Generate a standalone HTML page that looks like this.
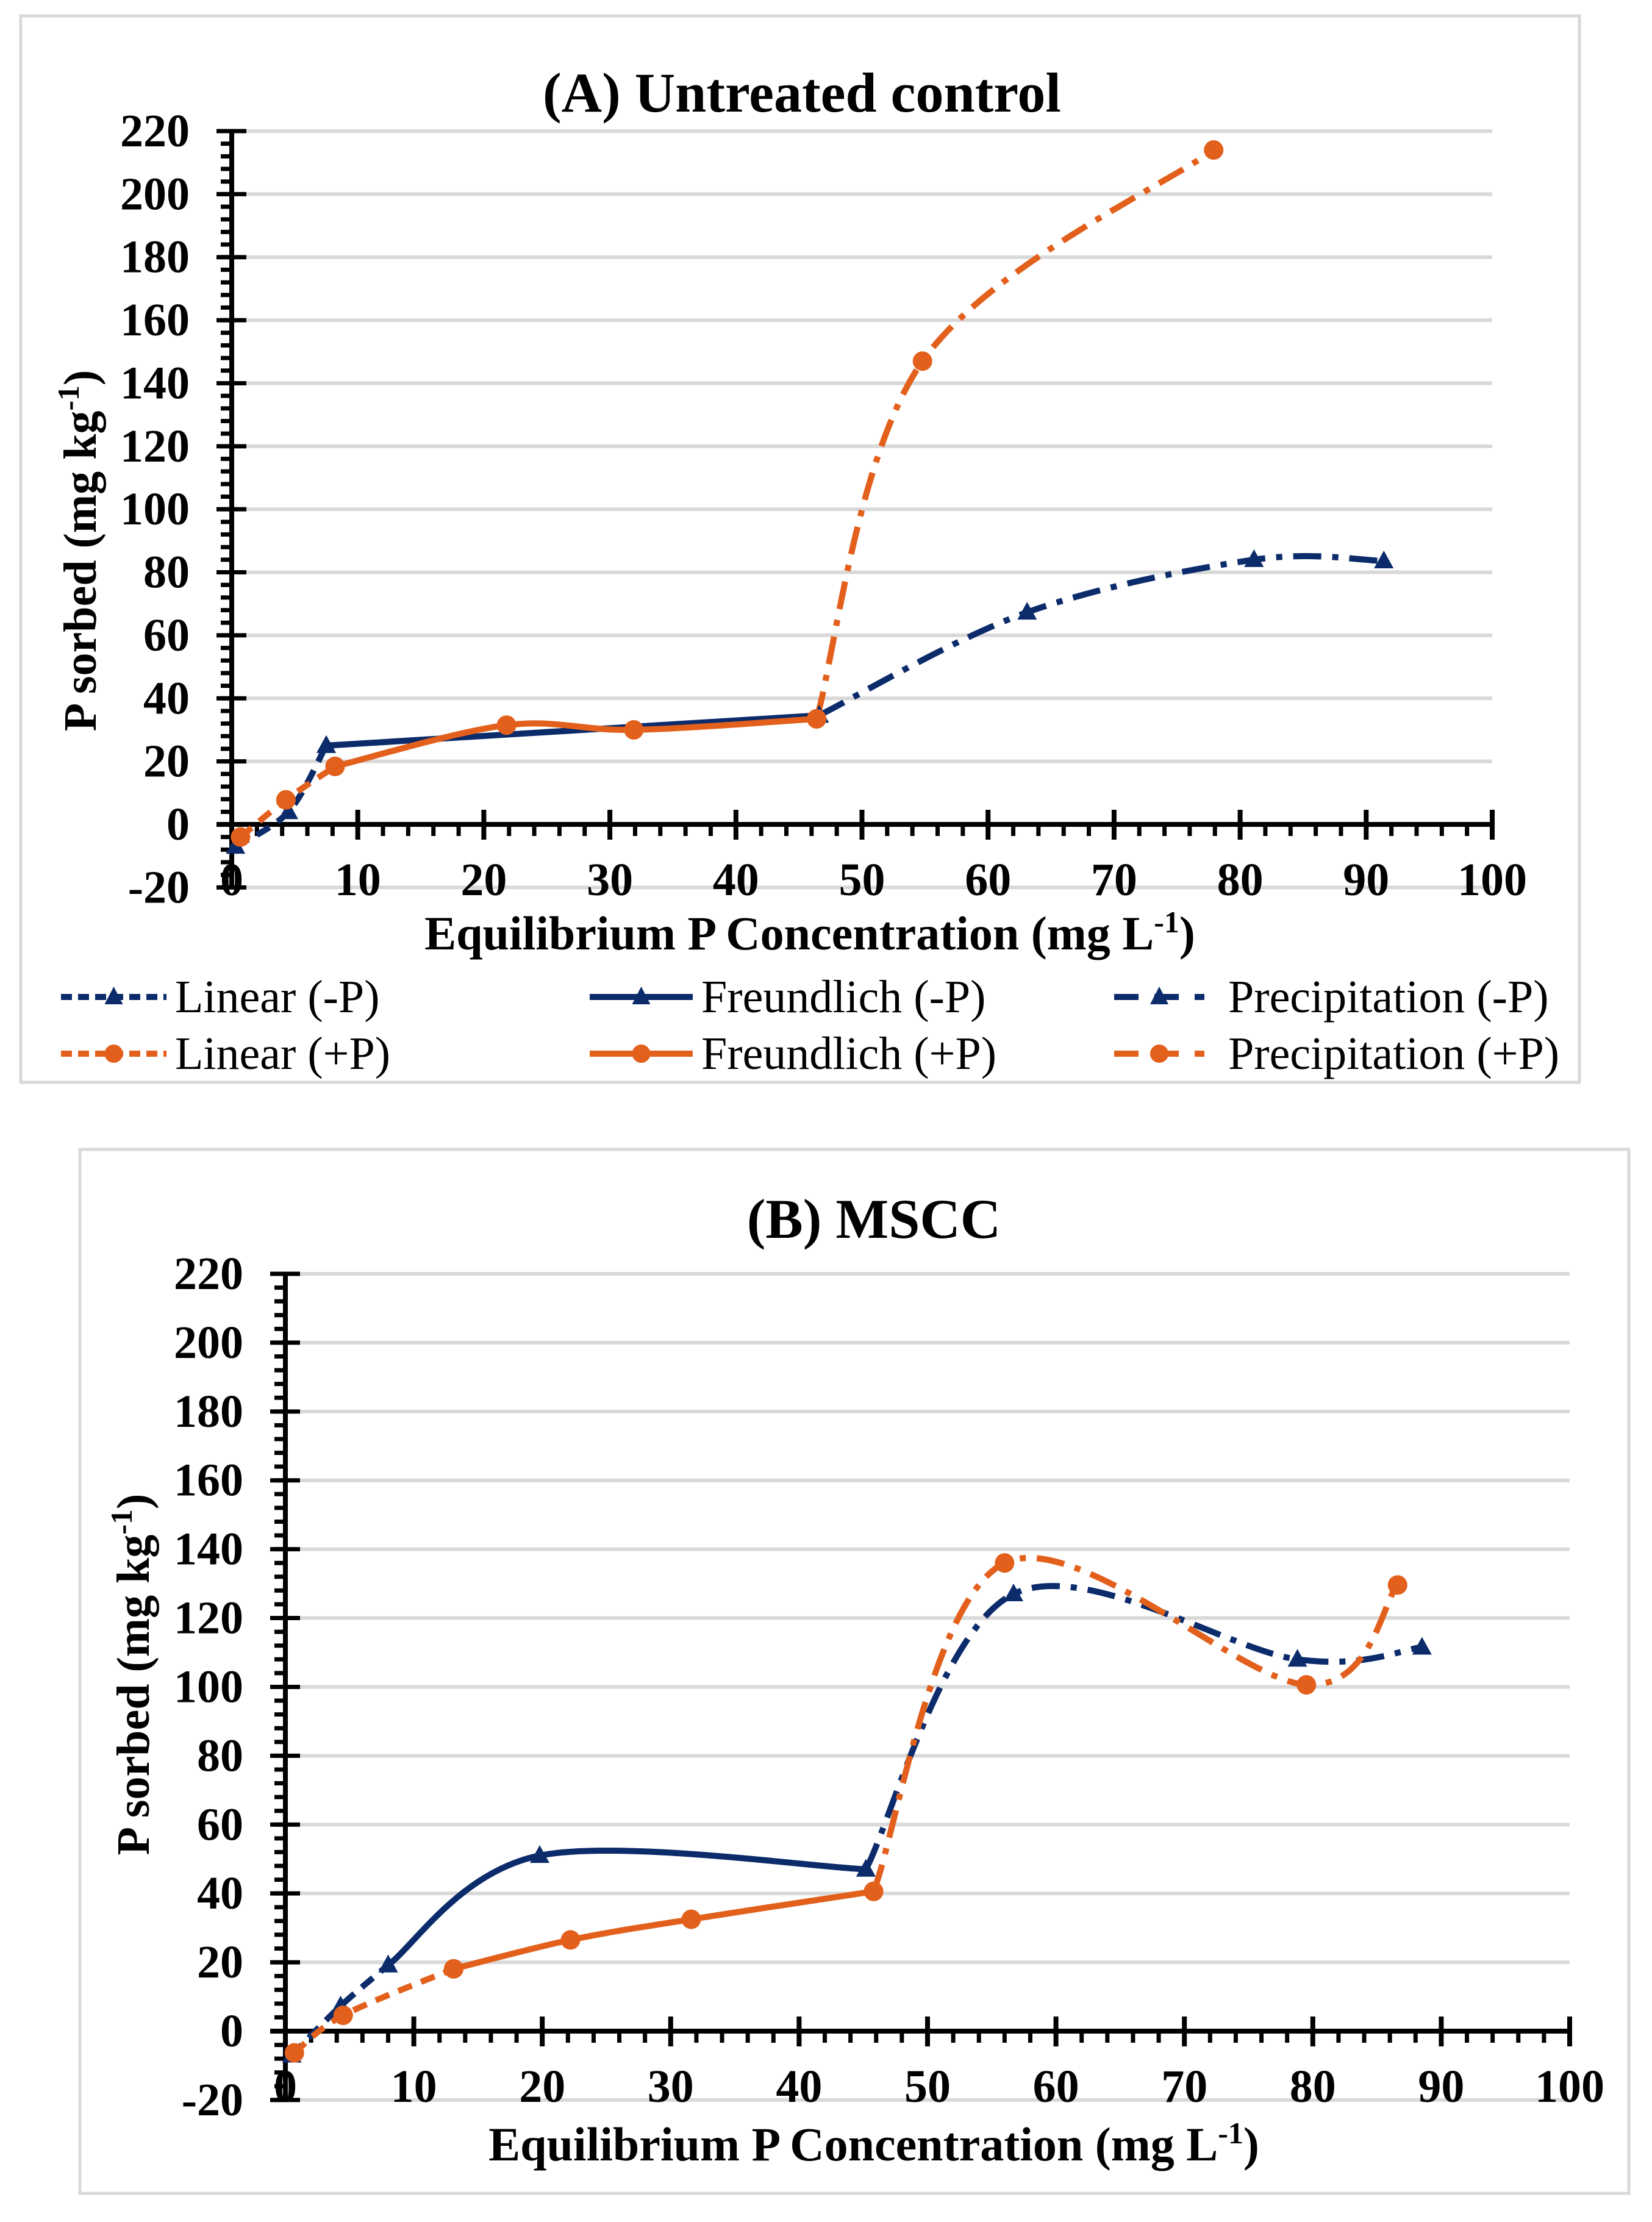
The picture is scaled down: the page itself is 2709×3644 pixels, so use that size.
<!DOCTYPE html>
<html><head><meta charset="utf-8">
<style>
html,body{margin:0;padding:0;background:#fff;}
svg{display:block;}
text{font-family:"Liberation Serif",serif;}
</style></head>
<body>
<svg id="root" width="2709" height="3644" viewBox="0 0 2709 3644" xmlns="http://www.w3.org/2000/svg">
<rect x="0" y="0" width="2709" height="3644" fill="#fff"/>
<rect x="34" y="26" width="2556" height="1749" fill="#fff" stroke="#d9d9d9" stroke-width="5"/>
<rect x="131" y="1885" width="2540" height="1712" fill="#fff" stroke="#d9d9d9" stroke-width="5"/>
<g id="pa"></g>
<g id="pb"></g>
<g id="legend"></g>
</svg>
<script>
// ---- data ----
const xTicks = [0,10,20,30,40,50,60,70,80,90,100];
const yTicks = [-20,0,20,40,60,80,100,120,140,160,180,200,220];
// Panel A
const aLinNx = [0.3, 4.5, 7.5];      const aLinNy = [-7, 4, 25];
const aFreNx = [7.5, 46.6];          const aFreNy = [25, 34.6];
const aPreNx = [46.6, 63.1, 81.1, 91.4]; const aPreNy = [34.6, 67.3, 84, 83.6];
const aLinPx = [0.7, 4.3, 8.2];      const aLinPy = [-4, 7.8, 18.4];
const aFrePx = [8.2, 21.8, 31.9, 46.4]; const aFrePy = [18.4, 31.5, 30, 33.5];
const aPrePx = [46.4, 54.8, 77.9];   const aPrePy = [33.5, 147, 214];
// Panel B
const bLinNx = [0.5, 4.3, 8];        const bLinNy = [-7, 7.3, 19.2];
const bFreNx = [8, 19.8, 45.2];      const bFreNy = [19.2, 51, 47];
const bPreNx = [45.2, 56.7, 78.8, 88.5]; const bPreNy = [47, 127, 108, 111.5];
const bLinPx = [0.7, 4.5, 13.1];     const bLinPy = [-6.3, 4.6, 18.1];
const bFrePx = [13.1, 22.2, 31.6, 45.8]; const bFrePy = [18.1, 26.5, 32.5, 40.6];
const bPrePx = [45.8, 56, 79.5, 86.6]; const bPrePy = [40.6, 136, 100.6, 129.6];

const NAVY = "#0b2b6b", ORANGE = "#e2601c";
const DASH_LIN = "24 16", DASH_PRE = "46 18 10 18";
const NS = "http://www.w3.org/2000/svg";
function mk(tag, attrs, parent){const e=document.createElementNS(NS,tag);for(const k in attrs)e.setAttribute(k,attrs[k]);parent.appendChild(e);return e;}

function smoothPath(pts){
  if(pts.length<2) return "";
  let d="M"+pts[0][0]+","+pts[0][1];
  if(pts.length===2){return d+" L"+pts[1][0]+","+pts[1][1];}
  const t=1/6;
  for(let i=0;i<pts.length-1;i++){
    const p0=pts[Math.max(0,i-1)],p1=pts[i],p2=pts[i+1],p3=pts[Math.min(pts.length-1,i+2)];
    const c1=[p1[0]+(p2[0]-p0[0])*t,p1[1]+(p2[1]-p0[1])*t];
    const c2=[p2[0]-(p3[0]-p1[0])*t,p2[1]-(p3[1]-p1[1])*t];
    d+=" C"+c1[0]+","+c1[1]+" "+c2[0]+","+c2[1]+" "+p2[0]+","+p2[1];
  }
  return d;
}

function panel(g, cfg){
  const sx=v=>cfg.x0+(v-0)*(cfg.x100-cfg.x0)/100;
  const sy=v=>cfg.y0-(v)*(cfg.y0-cfg.y220)/220;
  yTicks.forEach(v=>{ if(v===0) return;
    const l=mk("line",{x1:sx(0),x2:sx(100),y1:sy(v),y2:sy(v),stroke:"#d9d9d9","stroke-width":6},g);
    
    
  });
  for(let v=-20;v<=220;v+=4){
    const l=mk("line",{x1:sx(0)-18,x2:sx(0),y1:sy(v),y2:sy(v),stroke:"#000","stroke-width":7},g);
    
    
  }
  yTicks.forEach(v=>{
    const l=mk("line",{x1:sx(0)-25,x2:sx(0)+24,y1:sy(v),y2:sy(v),stroke:"#000","stroke-width":7},g);
    
    
    const t=mk("text",{x:sx(0)-69,y:sy(v)+25,"text-anchor":"end","font-size":76,"font-weight":"bold",fill:"#000"},g);
    t.textContent=v;
    
    
  });
  const ya=mk("line",{x1:sx(0),x2:sx(0),y1:sy(220),y2:sy(-20),stroke:"#000","stroke-width":8},g);
  
  
  const xa=mk("line",{x1:sx(0)-25,x2:sx(100),y1:sy(0),y2:sy(0),stroke:"#000","stroke-width":8},g);
  
  
  for(let v=0;v<=100;v+=2){
    const l=mk("line",{x1:sx(v),x2:sx(v),y1:sy(0),y2:sy(0)+19,stroke:"#000","stroke-width":7},g);
    
    
  }
  xTicks.forEach(v=>{
    const l=mk("line",{x1:sx(v),x2:sx(v),y1:sy(0)-24,y2:sy(0)+25,stroke:"#000","stroke-width":8},g);
    
    
    const t=mk("text",{x:sx(v),y:sy(0)+116,"text-anchor":"middle","font-size":76,"font-weight":"bold",fill:"#000"},g);
    t.textContent=v;
    
    
  });
  const tt=mk("text",{x:cfg.tx,y:cfg.ty,"text-anchor":"middle","font-size":92,"font-weight":"bold",fill:"#000"},g);
  tt.textContent=cfg.title;
  
  
  const xt=mk("text",{x:cfg.xtx,y:cfg.xty,"text-anchor":"middle","font-size":78,"font-weight":"bold",fill:"#000"},g);
  xt.innerHTML='Equilibrium P Concentration (mg L<tspan dy="-28" font-size="50">-1</tspan><tspan dy="28">)</tspan>';
  
  
  const yt=mk("text",{x:0,y:0,"text-anchor":"middle","font-size":76,"font-weight":"bold",fill:"#000",transform:"translate("+(cfg.ytx+26)+","+cfg.yty+") rotate(-90)"},g);
  yt.innerHTML='P sorbed (mg kg<tspan dy="-28" font-size="50">-1</tspan><tspan dy="28">)</tspan>';
  
  
  cfg.series.forEach(s=>{
    const pts=s.xs.map((x,i)=>[sx(x),sy(s.ys[i])]);
    const p=mk("path",{d:smoothPath(pts),fill:"none",stroke:s.color,"stroke-width":10,"stroke-dasharray":s.dash||"none","stroke-linecap":s.dash?"butt":"round","stroke-linejoin":"round"},g);
    
    
  });
  cfg.series.forEach(s=>{
    s.xs.forEach((x,i)=>{
      const cx=sx(x),cy=sy(s.ys[i]);
      let m;
      if(s.marker==="tri"){
        m=mk("polygon",{points:(cx)+","+(cy-17)+" "+(cx-16)+","+(cy+12)+" "+(cx+16)+","+(cy+12),fill:s.color},g);
      } else {
        m=mk("circle",{cx:cx,cy:cy,r:16,fill:s.color},g);
      }
      
      
    });
  });
}

panel(document.getElementById("pa"),{
  x0:380,x100:2447,y0:1352,y220:215,title:"(A) Untreated control",tx:1315,ty:183,
  xtx:1328,xty:1557,ytx:131,yty:903,
  series:[
    {name:"linear-minus-p",xs:aLinNx,ys:aLinNy,color:NAVY,dash:DASH_LIN,marker:"tri"},
    {name:"freundlich-minus-p",xs:aFreNx,ys:aFreNy,color:NAVY,dash:null,marker:"tri"},
    {name:"precipitation-minus-p",xs:aPreNx,ys:aPreNy,color:NAVY,dash:DASH_PRE,marker:"tri"},
    {name:"linear-plus-p",xs:aLinPx,ys:aLinPy,color:ORANGE,dash:DASH_LIN,marker:"circ"},
    {name:"freundlich-plus-p",xs:aFrePx,ys:aFrePy,color:ORANGE,dash:null,marker:"circ"},
    {name:"precipitation-plus-p",xs:aPrePx,ys:aPrePy,color:ORANGE,dash:DASH_PRE,marker:"circ"}
  ]});
panel(document.getElementById("pb"),{
  x0:468,x100:2574,y0:3331,y220:2089,title:"(B) MSCC",tx:1433,ty:2030,
  xtx:1433,xty:3543,ytx:218,yty:2746,
  series:[
    {name:"linear-minus-p",xs:bLinNx,ys:bLinNy,color:NAVY,dash:DASH_LIN,marker:"tri"},
    {name:"freundlich-minus-p",xs:bFreNx,ys:bFreNy,color:NAVY,dash:null,marker:"tri"},
    {name:"precipitation-minus-p",xs:bPreNx,ys:bPreNy,color:NAVY,dash:DASH_PRE,marker:"tri"},
    {name:"linear-plus-p",xs:bLinPx,ys:bLinPy,color:ORANGE,dash:DASH_LIN,marker:"circ"},
    {name:"freundlich-plus-p",xs:bFrePx,ys:bFrePy,color:ORANGE,dash:null,marker:"circ"},
    {name:"precipitation-plus-p",xs:bPrePx,ys:bPrePy,color:ORANGE,dash:DASH_PRE,marker:"circ"}
  ]});

const legendLabels=["Linear (-P)","Freundlich (-P)","Precipitation (-P)","Linear (+P)","Freundlich (+P)","Precipitation (+P)"];
const lg=document.getElementById("legend");
const colX=[[100,273,287],[967,1136,1150],[1827,1975,2014]];
const rowY=[1635,1728];
const dashes=["18 10",null,"40 26"];
legendLabels.forEach((lab,i)=>{
  const r=Math.floor(i/3),c=i%3;
  const color=r===0?NAVY:ORANGE;
  const y=rowY[r];
  const grp=mk("g",{},lg);
  
  
  mk("line",{x1:colX[c][0],x2:colX[c][1],y1:y,y2:y,stroke:color,"stroke-width":10,"stroke-dasharray":dashes[c]||"none"},grp);
  const mx=(colX[c][0]+colX[c][1])/2;
  if(r===0) mk("polygon",{points:mx+","+(y-17)+" "+(mx-15)+","+(y+12)+" "+(mx+15)+","+(y+12),fill:color},grp);
  else mk("circle",{cx:mx,cy:y,r:15,fill:color},grp);
  const t=mk("text",{x:colX[c][2],y:y+25,"font-size":76,fill:"#000"},grp);
  t.textContent=lab;
});
</script>
</body></html>
